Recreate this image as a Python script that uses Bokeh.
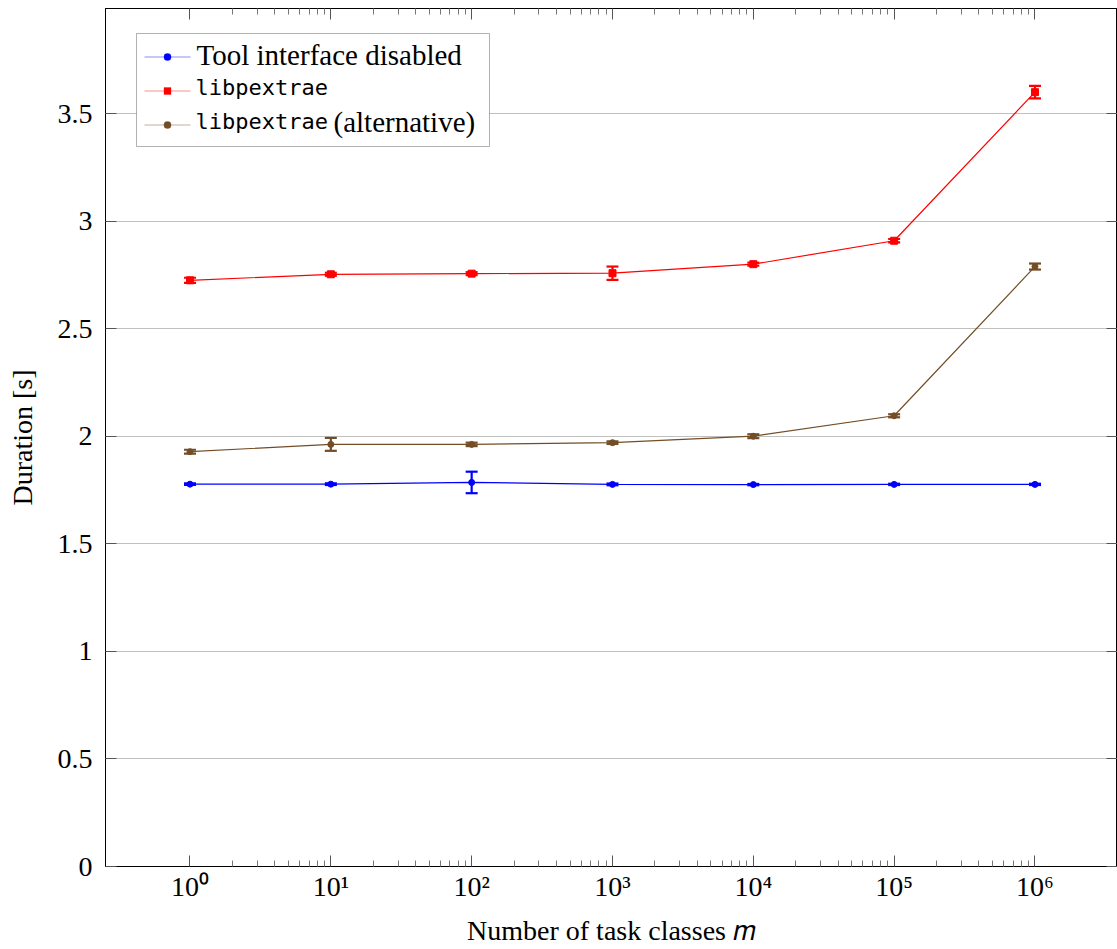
from bokeh.plotting import figure
from bokeh.models import (ColumnDataSource, Range1d, LogAxis, LinearAxis, FixedTicker,
                          Whisker, TeeHead, Label, CustomJSTickFormatter,
                          BoxAnnotation, PolyAnnotation)
from bokeh.embed import file_html
from bokeh.resources import INLINE

# ---- data ----
task_classes = [1, 10, 100, 1000, 10000, 100000, 1000000]

disabled = [1.778, 1.778, 1.786, 1.777, 1.776, 1.777, 1.777]
disabled_err = [0.004, 0.004, 0.050, 0.004, 0.003, 0.003, 0.003]

pextrae = [2.726, 2.754, 2.757, 2.759, 2.801, 2.910, 3.601]
pextrae_err = [0.012, 0.007, 0.007, 0.031, 0.007, 0.008, 0.029]

alternative = [1.929, 1.963, 1.963, 1.971, 2.001, 2.096, 2.790]
alternative_err = [0.009, 0.030, 0.008, 0.006, 0.009, 0.007, 0.014]

y_ticks = [0, 0.5, 1, 1.5, 2, 2.5, 3, 3.5]
x_ticks = [1, 10, 100, 1000, 10000, 100000, 1000000]

legend_labels = ["Tool interface disabled", "libpextrae", "libpextrae"]
legend_suffix = ["", "", "(alternative)"]

BLUE = "#0000ff"
RED = "#ff0000"
BROWN = "#734d26"
SERIF = "Liberation Serif"
MONO = "DejaVu Sans Mono"
FS = "28px"

p = figure(width=1117, height=949, x_axis_type="log",
           x_range=Range1d(10 ** -0.6, 10 ** 6.586), y_range=Range1d(0, 3.99),
           output_backend="svg", toolbar_location=None,
           min_border_left=105, min_border_right=0, min_border_top=8, min_border_bottom=83)
p.outline_line_color = "black"
p.outline_line_width = 1
p.background_fill_color = "white"
p.border_fill_color = "white"

minor = [k * 10 ** e for e in range(0, 6) for k in range(2, 10)]
xticker = FixedTicker(ticks=x_ticks, minor_ticks=minor)
yticker = FixedTicker(ticks=y_ticks, minor_ticks=[])

sup = CustomJSTickFormatter(code="""
const s = {'0':'\u2070','1':'\u00b9','2':'\u00b2','3':'\u00b3','4':'\u2074','5':'\u2075','6':'\u2076','7':'\u2077','8':'\u2078','9':'\u2079','-':'\u207b'};
const e = Math.round(Math.log10(tick)).toString();
return '10' + e.split('').map(c => s[c]).join('');
""")
plain = CustomJSTickFormatter(code="return tick.toString();")
blank = CustomJSTickFormatter(code="return '';")

def style_axis(ax):
    ax.axis_line_color = "black"
    ax.axis_line_width = 1
    ax.major_tick_line_color = "#555555"
    ax.minor_tick_line_color = "#777777"
    ax.major_tick_in = 11
    ax.major_tick_out = 0
    ax.minor_tick_in = 6
    ax.minor_tick_out = 0
    ax.major_label_text_font = SERIF
    ax.major_label_text_font_size = FS
    ax.major_label_text_color = "black"
    ax.axis_label_text_font = SERIF
    ax.axis_label_text_font_size = FS
    ax.axis_label_text_font_style = "normal"
    ax.axis_label_text_color = "black"

xa = p.xaxis[0]
style_axis(xa)
xa.ticker = xticker
xa.formatter = sup
xa.major_label_standoff = 4
xa.axis_label = "Number of task classes \U0001d45a"
xa.axis_label_standoff = 10

ya = p.yaxis[0]
style_axis(ya)
ya.ticker = yticker
ya.formatter = plain
ya.major_label_standoff = 13
ya.axis_label = "Duration [s]"
ya.axis_label_standoff = 17

top = LogAxis(ticker=xticker, formatter=blank)
style_axis(top)
top.major_label_standoff = 0
top.major_label_text_font_size = "0px"
p.add_layout(top, "above")

right = LinearAxis(ticker=yticker, formatter=blank)
style_axis(right)
right.major_label_standoff = 0
right.major_label_text_font_size = "0px"
p.add_layout(right, "right")

p.xgrid.visible = False
p.ygrid.ticker = yticker
p.ygrid.grid_line_color = "#c0c0c0"
p.ygrid.grid_line_width = 1

def series(vals, errs, color, marker, size):
    src = ColumnDataSource(dict(
        x=task_classes, y=vals,
        lower=[v - e for v, e in zip(vals, errs)],
        upper=[v + e for v, e in zip(vals, errs)]))
    p.line("x", "y", source=src, line_color=color, line_width=1.2)
    w = Whisker(source=src, base="x", lower="lower", upper="upper", dimension="height",
                line_color=color, line_width=2.2,
                lower_head=TeeHead(size=12, line_color=color, line_width=2.2),
                upper_head=TeeHead(size=12, line_color=color, line_width=2.2))
    p.add_layout(w)
    p.scatter("x", "y", source=src, marker=marker, size=size,
              fill_color=color, line_color=color)

series(disabled, disabled_err, BLUE, "circle", 6)
series(pextrae, pextrae_err, RED, "square", 7)
series(alternative, alternative_err, BROWN, "circle", 6)

# ---- legend (screen units, relative to the plot frame's bottom-left corner) ----
p.add_layout(BoxAnnotation(left=31, right=384, bottom=720, top=833,
                           left_units="screen", right_units="screen",
                           bottom_units="screen", top_units="screen",
                           fill_color="white", fill_alpha=1,
                           line_color="black", line_width=1, level="overlay"))

rows = [(809.5, BLUE, True, 7), (775.5, RED, False, 7), (741.5, BROWN, True, 7)]
baselines = [812, 779, 745]
for i, (cy, color, is_circle, msz) in enumerate(rows):
    p.add_layout(PolyAnnotation(xs=[39, 85], ys=[cy, cy], xs_units="screen", ys_units="screen",
                                fill_alpha=0, line_color=color, line_width=1.3, level="overlay"))
    h = msz / 2
    p.add_layout(BoxAnnotation(left=62 - h, right=62 + h, bottom=cy - h, top=cy + h,
                               left_units="screen", right_units="screen",
                               bottom_units="screen", top_units="screen",
                               fill_color=color, fill_alpha=1, line_color=color,
                               border_radius=3 if is_circle else 0, level="overlay"))
    font = SERIF if i == 0 else MONO
    size = "29px" if i == 0 else "22px"
    p.add_layout(Label(x=91 if i == 0 else 90, y=baselines[i], x_units="screen", y_units="screen",
                       text=legend_labels[i], text_font=font, text_font_size=size,
                       text_color="black", text_baseline="alphabetic", text_align="left",
                       level="overlay"))
    if legend_suffix[i]:
        p.add_layout(Label(x=228, y=baselines[i], x_units="screen", y_units="screen",
                           text=legend_suffix[i], text_font=SERIF, text_font_size="29px",
                           text_color="black", text_baseline="alphabetic", text_align="left",
                           level="overlay"))

open("out.html", "w").write(file_html(p, INLINE))
